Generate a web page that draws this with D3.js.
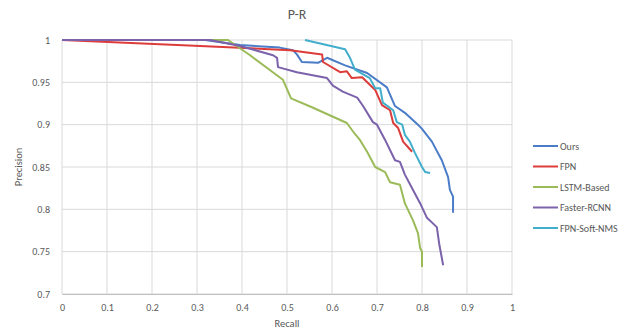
<!DOCTYPE html>
<html>
<head>
<meta charset="utf-8">
<script src="https://cdn.jsdelivr.net/npm/d3@7"></script>
<style>
  body { margin: 0; background: #fff; }
  text { font-family: Calibri, "Liberation Sans", "Open Sans", sans-serif; fill: #595959; }
</style>
</head>
<body>
<svg id="chart"></svg>
<script>
// Series names and colours
const seriesNames = ["Ours", "FPN", "LSTM-Based", "Faster-RCNN", "FPN-Soft-NMS"];
const seriesColors = ["#4a7cc8", "#dc3c3a", "#9bbb59", "#7b62aa", "#41aecb"];

// Recall / precision pairs
const oursRecall = [0, 0.318, 0.396, 0.484, 0.513, 0.522, 0.533, 0.569, 0.589, 0.629, 0.678, 0.722, 0.740, 0.762, 0.791, 0.800, 0.822, 0.844, 0.858, 0.862, 0.869, 0.869];
const oursPrecision = [1, 1, 0.994, 0.991, 0.988, 0.983, 0.974, 0.973, 0.979, 0.970, 0.961, 0.944, 0.922, 0.914, 0.900, 0.895, 0.880, 0.858, 0.838, 0.823, 0.815, 0.796];

const fpnRecall = [0, 0.307, 0.507, 0.578, 0.580, 0.618, 0.633, 0.644, 0.667, 0.696, 0.711, 0.729, 0.736, 0.747, 0.758, 0.778];
const fpnPrecision = [1, 0.993, 0.988, 0.983, 0.974, 0.962, 0.963, 0.955, 0.956, 0.941, 0.923, 0.917, 0.902, 0.896, 0.880, 0.868];

const lstmRecall = [0, 0.369, 0.418, 0.491, 0.509, 0.558, 0.633, 0.651, 0.662, 0.678, 0.696, 0.718, 0.729, 0.751, 0.762, 0.780, 0.791, 0.796, 0.800, 0.800];
const lstmPrecision = [1, 1, 0.982, 0.953, 0.931, 0.920, 0.902, 0.889, 0.882, 0.868, 0.850, 0.844, 0.832, 0.829, 0.807, 0.787, 0.772, 0.754, 0.750, 0.732];

const frcnnRecall = [0, 0.329, 0.396, 0.469, 0.478, 0.480, 0.522, 0.589, 0.602, 0.624, 0.656, 0.669, 0.691, 0.700, 0.718, 0.740, 0.751, 0.762, 0.778, 0.796, 0.811, 0.833, 0.838, 0.847];
const frcnnPrecision = [1, 1, 0.993, 0.982, 0.979, 0.968, 0.962, 0.955, 0.946, 0.939, 0.932, 0.922, 0.903, 0.900, 0.882, 0.858, 0.856, 0.841, 0.825, 0.807, 0.790, 0.779, 0.760, 0.734];

const softRecall = [0.540, 0.629, 0.640, 0.651, 0.684, 0.696, 0.707, 0.713, 0.736, 0.744, 0.756, 0.762, 0.773, 0.784, 0.800, 0.807, 0.818];
const softPrecision = [1, 0.989, 0.979, 0.965, 0.955, 0.943, 0.943, 0.926, 0.917, 0.903, 0.900, 0.888, 0.880, 0.867, 0.850, 0.844, 0.843];

const xTicks = [0, 0.1, 0.2, 0.3, 0.4, 0.5, 0.6, 0.7, 0.8, 0.9, 1];
const yTicks = [0.7, 0.75, 0.8, 0.85, 0.9, 0.95, 1];

const series = [
  [oursRecall, oursPrecision],
  [fpnRecall, fpnPrecision],
  [lstmRecall, lstmPrecision],
  [frcnnRecall, frcnnPrecision],
  [softRecall, softPrecision]
].map((s, i) => ({
  name: seriesNames[i],
  color: seriesColors[i],
  points: s[0].map((r, j) => ({ r: r, p: s[1][j] }))
}));

const W = 636, H = 331;
const margin = { top: 40, right: 124, bottom: 37, left: 62 };
const width = W - margin.left - margin.right;
const height = H - margin.top - margin.bottom;

const svg = d3.select("#chart").attr("width", W).attr("height", H);
const g = svg.append("g")
    .attr("transform", "translate(" + margin.left + "," + margin.top + ")");

const x = d3.scaleLinear().domain([0, 1]).range([0, width]);
const y = d3.scaleLinear().domain([0.7, 1]).range([height, 0]);

// Gridlines
g.append("g")
  .selectAll("line")
  .data(yTicks)
  .enter().append("line")
    .attr("x1", 0).attr("x2", width)
    .attr("y1", d => y(d)).attr("y2", d => y(d))
    .attr("stroke", "#d9d9d9").attr("stroke-width", 1);

g.append("g")
  .selectAll("line")
  .data(xTicks)
  .enter().append("line")
    .attr("x1", d => x(d)).attr("x2", d => x(d))
    .attr("y1", 0).attr("y2", height)
    .attr("stroke", "#d9d9d9").attr("stroke-width", 1);

// Axes
const xAxis = g.append("g")
    .attr("transform", "translate(0," + height + ")")
    .call(d3.axisBottom(x).tickValues(xTicks).tickSize(0).tickPadding(10).tickFormat(d3.format("")));
xAxis.select(".domain").attr("stroke", "#bfbfbf");

const yAxis = g.append("g")
    .call(d3.axisLeft(y).tickValues(yTicks).tickSize(0).tickPadding(12).tickFormat(d3.format("")));
yAxis.select(".domain").remove();

svg.selectAll(".tick text")
    .style("font-size", "10px")
    .style("fill", "#595959")
    .style("font-family", "Calibri, 'Liberation Sans', 'Open Sans', sans-serif");

// Series lines
const line = d3.line()
    .x(d => x(d.r))
    .y(d => y(d.p));

g.selectAll(".series")
  .data(series)
  .enter().append("path")
    .attr("class", "series")
    .attr("d", d => line(d.points))
    .attr("fill", "none")
    .attr("stroke", d => d.color)
    .attr("stroke-width", 2)
    .attr("stroke-linejoin", "round");

// Titles
svg.append("text")
    .attr("x", margin.left + width / 2 + 10)
    .attr("y", 19)
    .attr("text-anchor", "middle")
    .style("font-size", "14px")
    .text("P-R");

svg.append("text")
    .attr("x", margin.left + width / 2)
    .attr("y", 327)
    .attr("text-anchor", "middle")
    .style("font-size", "10.5px")
    .text("Recall");

svg.append("text")
    .attr("transform", "translate(22," + (margin.top + height / 2) + ") rotate(-90)")
    .attr("text-anchor", "middle")
    .style("font-size", "10.5px")
    .text("Precision");

// Legend
const legend = svg.append("g").attr("transform", "translate(533,146)");
const items = legend.selectAll("g")
  .data(series)
  .enter().append("g")
    .attr("transform", (d, i) => "translate(0," + (i * 20.5) + ")");
items.append("line")
    .attr("x1", 0).attr("x2", 25)
    .attr("stroke", d => d.color)
    .attr("stroke-width", 2);
items.append("text")
    .attr("x", 27)
    .attr("y", 3.5)
    .style("font-size", "10px")
    .text(d => d.name);
</script>
</body>
</html>
